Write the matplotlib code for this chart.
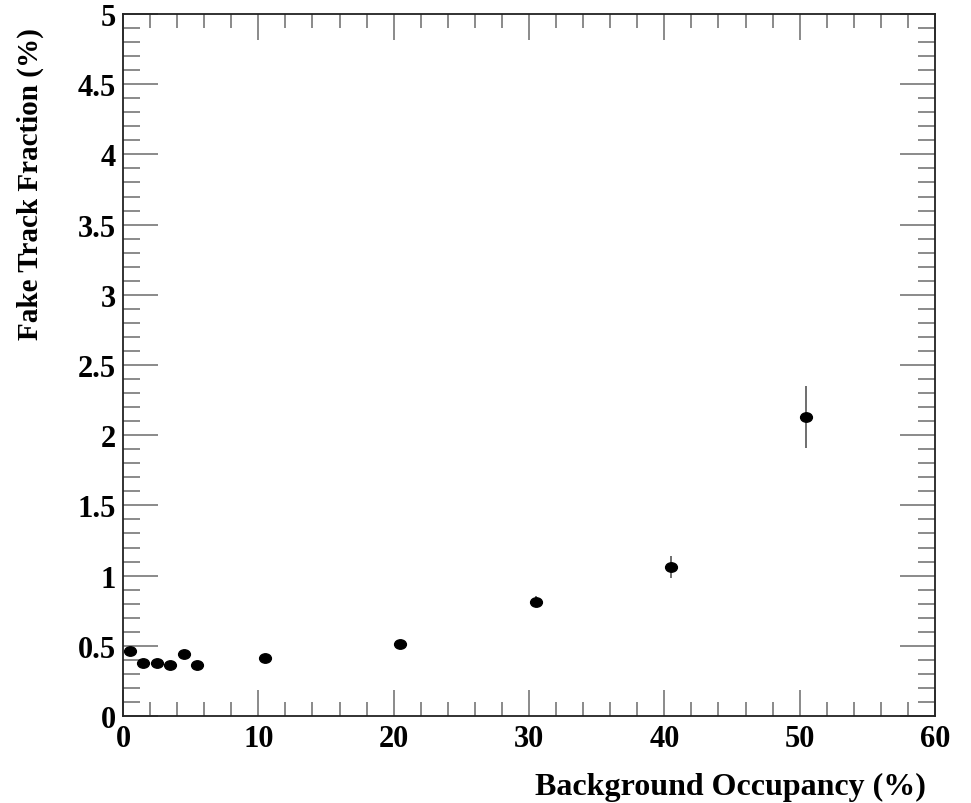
import numpy as np
import matplotlib.pyplot as plt
from matplotlib.path import Path
from matplotlib.ticker import MultipleLocator

# background occupancy (%) and fake track fraction (%)
occupancy = [0.5, 1.5, 2.5, 3.5, 4.5, 5.5, 10.5, 20.5, 30.5, 40.5, 50.5]
fake_frac = [0.46, 0.38, 0.38, 0.365, 0.44, 0.36, 0.41, 0.51, 0.815, 1.063, 2.127]
fake_err = [0.01, 0.01, 0.01, 0.01, 0.01, 0.01, 0.015, 0.02, 0.04, 0.08, 0.22]

plt.rcParams['font.family'] = ['Liberation Serif', 'DejaVu Serif']
plt.rcParams['font.weight'] = 'bold'

fig = plt.figure(figsize=(9.71, 8.04), dpi=100)
ax = fig.add_axes([123/971, 1 - 717/804, (935-123)/971, (717-15)/804])

# slightly wide ellipse marker, like the stretched ROOT dots
circ = Path.unit_circle()
ell = Path(circ.vertices * [1.25, 1.0], circ.codes)

ax.errorbar(occupancy, fake_frac, yerr=fake_err, fmt='none', ecolor='#555555',
            elinewidth=1.2, capsize=0)
ax.plot(occupancy, fake_frac, linestyle='none', marker=ell, markersize=8.5,
        color='black')

ax.set_xlim(0, 60)
ax.set_ylim(0, 5)
ax.xaxis.set_major_locator(MultipleLocator(10))
ax.xaxis.set_minor_locator(MultipleLocator(2))
ax.yaxis.set_major_locator(MultipleLocator(0.5))
ax.yaxis.set_minor_locator(MultipleLocator(0.1))

ax.tick_params(axis='both', which='both', direction='in', top=True, right=True,
               color='#777777', width=1.2, labelsize=22)
ax.tick_params(axis='x', which='major', length=19, pad=6)
ax.tick_params(axis='x', which='minor', length=10)
ax.tick_params(axis='y', which='major', length=25, pad=5)
ax.tick_params(axis='y', which='minor', length=12)

ax.set_xticks([0, 10, 20, 30, 40, 50, 60])
ax.set_xticklabels(['0', '10', '20', '30', '40', '50', '60'])
ax.set_yticks([0, 0.5, 1, 1.5, 2, 2.5, 3, 3.5, 4, 4.5, 5])
ax.set_yticklabels(['0', '0.5', '1', '1.5', '2', '2.5', '3', '3.5', '4', '4.5', '5'])

for sp in ax.spines.values():
    sp.set_linewidth(1.3)
    sp.set_color('#222222')

fig.text(926/971, 1 - 787/804, 'Background Occupancy (%)', ha='right', va='center',
         fontsize=23, fontweight='bold')
fig.text(30/971, 1 - 28/804, 'Fake Track Fraction (%)', ha='center', va='top',
         rotation=90, fontsize=21, fontweight='bold')

fig.savefig('out.png', dpi=100)
